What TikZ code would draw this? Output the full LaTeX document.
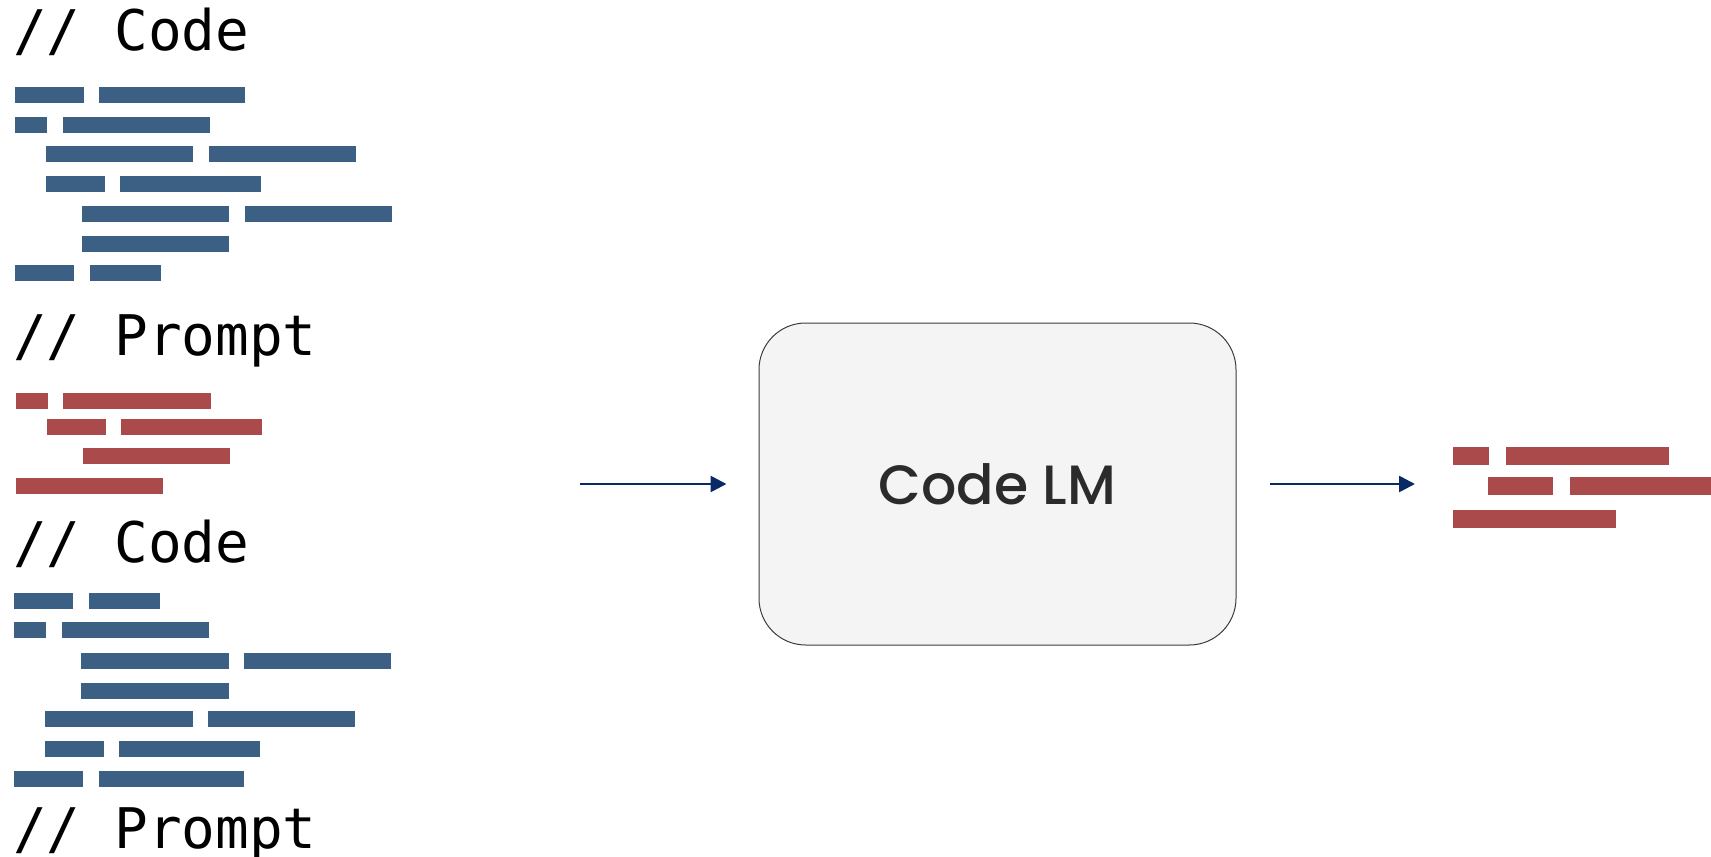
\documentclass[tikz,border=0pt]{standalone}
\usepackage{fontspec}
\usetikzlibrary{arrows.meta}
\newfontfamily\monofont{DejaVu Sans Mono}
\newfontfamily\lmfont{Poppins Medium}

\definecolor{codeblue}{RGB}{59,96,132}
\definecolor{promptred}{RGB}{170,74,74}
\definecolor{arrownavy}{RGB}{10,42,102}
\definecolor{boxfill}{RGB}{244,244,244}
\definecolor{boxline}{RGB}{60,60,60}
\definecolor{lmtext}{RGB}{43,43,43}

\tikzset{
    comment/.style={anchor=base west, inner sep=0pt, font=\monofont\fontsize{42}{50}\selectfont},
    model/.style={draw=boxline, line width=0.75pt, fill=boxfill, rounded corners=35pt,
        minimum width=357.75pt, minimum height=241.5pt, inner sep=0pt,
        text=lmtext, font=\lmfont\fontsize{41.5}{50}\selectfont},
    flow/.style={draw=arrownavy, line width=2pt, -{Triangle[length=12pt,width=12pt]}}
}

\begin{document}
\begin{tikzpicture}[x=0.75pt, y=-0.75pt]
    % Fix the page size
    \useasboundingbox (0,0) rectangle (1711,857);

    % Comment headers
    \node[comment] (code1) at (13,50) {// Code};
    \node[comment] (prompt1) at (13,355) {// Prompt};
    \node[comment] (code2) at (13,562) {// Code};
    \node[comment] (prompt2) at (13,848) {// Prompt};

    % Code lines (blue)
    \foreach \xa/\xb/\yt in {15/84/87, 99/245/87, 15/47/117, 63/210/117,
        46/193/146, 209/356/146, 46/105/176, 120/261/176,
        82/229/206, 245/392/206, 82/229/236, 15/74/265, 90/161/265,
        14/73/593, 89/160/593, 14/46/622, 62/209/622,
        81/229/653, 244/391/653, 81/229/683, 45/193/711, 208/355/711,
        45/104/741, 119/260/741, 14/83/771, 99/244/771}
        \fill[codeblue] (\xa,\yt) rectangle (\xb,\yt+16);

    % Prompt lines (red)
    \foreach \xa/\xb/\yt in {16/48/393, 63/211/393, 47/106/419, 121/262/419,
        83/230/448, 16/163/478}
        \fill[promptred] (\xa,\yt) rectangle (\xb,\yt+16);

    % The model
    \node[model] (lm) at (997.5,484) {Code LM};

    % Completion (red)
    \foreach \xa/\xb/\yt in {1453/1489/447, 1506/1669/447, 1488/1553/477,
        1570/1711/477, 1453/1616/510}
        \fill[promptred] (\xa,\yt) rectangle (\xb,\yt+18);

    % Arrows in and out
    \coordinate (ctx) at (580,484);
    \coordinate (out) at (1415,484);
    \draw[flow, shorten >=24pt] (ctx) -- (lm.west);
    \draw[flow, shorten <=24.75pt] (lm.east) -- (out);

\end{tikzpicture}
\end{document}
